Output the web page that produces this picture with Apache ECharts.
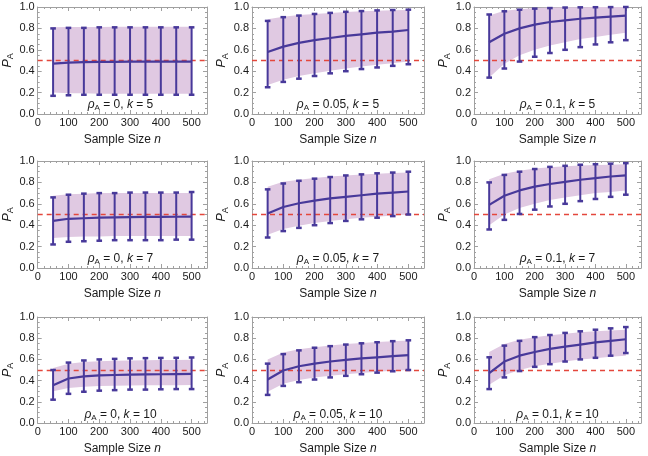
<!DOCTYPE html>
<html><head><meta charset="utf-8">
<script src="https://cdn.jsdelivr.net/npm/echarts@6/dist/echarts.min.js"></script>
<style>html,body{margin:0;padding:0;background:#fff}#c{width:648px;height:456px}</style>
</head><body><div id="c"></div>
<script>
// ---- data ----
const sampleSizes = [50,100,150,200,250,300,350,400,450,500];
const xTickValues = [0,100,200,300,400,500];
const yTickValues = [0.0,0.2,0.4,0.6,0.8,1.0];
const rhoLabels = ['0','0.05','0.1'];
const kLabels = ['5','7','10'];

// rho = 0, k = 5
const mean_r0_k5   = [0.47,0.48,0.485,0.487,0.488,0.49,0.49,0.49,0.49,0.49];
const errHi_r0_k5  = [0.80,0.805,0.805,0.81,0.81,0.81,0.81,0.81,0.81,0.81];
const errLo_r0_k5  = [0.17,0.175,0.18,0.18,0.18,0.18,0.18,0.18,0.18,0.18];
const bandHi_r0_k5 = [0.81,0.812,0.813,0.814,0.815,0.815,0.815,0.815,0.815,0.815];
const bandLo_r0_k5 = [0.20,0.195,0.195,0.19,0.19,0.19,0.19,0.19,0.19,0.19];
// rho = 0.05, k = 5
const mean_r05_k5   = [0.58,0.63,0.665,0.69,0.71,0.73,0.745,0.76,0.77,0.785];
const errHi_r05_k5  = [0.87,0.905,0.92,0.935,0.945,0.955,0.962,0.968,0.972,0.975];
const errLo_r05_k5  = [0.25,0.30,0.33,0.355,0.38,0.40,0.42,0.435,0.45,0.465];
const bandHi_r05_k5 = [0.885,0.91,0.925,0.935,0.945,0.953,0.96,0.965,0.97,0.973];
const bandLo_r05_k5 = [0.27,0.32,0.355,0.38,0.405,0.425,0.445,0.46,0.475,0.49];
// rho = 0.1, k = 5
const mean_r1_k5   = [0.67,0.75,0.80,0.835,0.86,0.875,0.89,0.90,0.91,0.92];
const errHi_r1_k5  = [0.93,0.96,0.975,0.985,0.99,0.995,0.997,0.998,0.999,1.0];
const errLo_r1_k5  = [0.34,0.425,0.49,0.535,0.57,0.60,0.625,0.65,0.67,0.69];
const bandHi_r1_k5 = [0.92,0.965,0.98,0.99,0.995,0.997,0.998,0.999,1.0,1.0];
const bandLo_r1_k5 = [0.34,0.47,0.55,0.60,0.64,0.67,0.70,0.72,0.74,0.76];
// rho = 0, k = 7
const mean_r0_k7   = [0.44,0.46,0.465,0.47,0.473,0.475,0.477,0.478,0.479,0.48];
const errHi_r0_k7  = [0.66,0.685,0.695,0.70,0.70,0.705,0.705,0.705,0.705,0.71];
const errLo_r0_k7  = [0.22,0.245,0.25,0.255,0.26,0.26,0.26,0.26,0.265,0.265];
const bandHi_r0_k7 = [0.675,0.69,0.695,0.70,0.70,0.70,0.70,0.70,0.70,0.70];
const bandLo_r0_k7 = [0.28,0.29,0.295,0.295,0.30,0.30,0.30,0.30,0.30,0.30];
// rho = 0.05, k = 7
const mean_r05_k7   = [0.51,0.57,0.605,0.63,0.65,0.665,0.68,0.695,0.705,0.715];
const errHi_r05_k7  = [0.735,0.79,0.815,0.835,0.85,0.865,0.875,0.885,0.892,0.90];
const errLo_r05_k7  = [0.285,0.345,0.375,0.40,0.42,0.44,0.455,0.47,0.485,0.50];
const bandHi_r05_k7 = [0.76,0.805,0.825,0.84,0.855,0.865,0.875,0.882,0.888,0.893];
const bandLo_r05_k7 = [0.31,0.365,0.395,0.42,0.44,0.455,0.47,0.48,0.49,0.50];
// rho = 0.1, k = 7
const mean_r1_k7   = [0.59,0.675,0.725,0.76,0.785,0.805,0.825,0.84,0.855,0.865];
const errHi_r1_k7  = [0.80,0.87,0.90,0.925,0.945,0.955,0.965,0.97,0.975,0.98];
const errLo_r1_k7  = [0.36,0.45,0.505,0.545,0.575,0.60,0.625,0.645,0.665,0.685];
const bandHi_r1_k7 = [0.83,0.88,0.91,0.93,0.942,0.95,0.957,0.962,0.966,0.97];
const bandLo_r1_k7 = [0.40,0.50,0.56,0.60,0.635,0.66,0.68,0.70,0.71,0.725];
// rho = 0, k = 10
const mean_r0_k10   = [0.355,0.42,0.44,0.45,0.453,0.456,0.458,0.46,0.462,0.463];
const errHi_r0_k10  = [0.50,0.57,0.59,0.60,0.605,0.61,0.612,0.614,0.615,0.618];
const errLo_r0_k10  = [0.22,0.275,0.295,0.305,0.31,0.315,0.315,0.318,0.32,0.32];
const bandHi_r0_k10 = [0.52,0.56,0.575,0.583,0.587,0.59,0.592,0.594,0.595,0.597];
const bandLo_r0_k10 = [0.30,0.33,0.343,0.35,0.352,0.354,0.355,0.356,0.357,0.358];
// rho = 0.05, k = 10
const mean_r05_k10   = [0.41,0.495,0.535,0.56,0.58,0.595,0.61,0.62,0.63,0.64];
const errHi_r05_k10  = [0.56,0.65,0.685,0.71,0.725,0.74,0.752,0.762,0.772,0.78];
const errLo_r05_k10  = [0.265,0.35,0.385,0.41,0.43,0.445,0.46,0.475,0.488,0.50];
const bandHi_r05_k10 = [0.60,0.665,0.695,0.715,0.73,0.745,0.755,0.765,0.772,0.778];
const bandLo_r05_k10 = [0.295,0.37,0.405,0.43,0.445,0.46,0.472,0.484,0.494,0.50];
// rho = 0.1, k = 10
const mean_r1_k10   = [0.47,0.58,0.635,0.67,0.70,0.72,0.74,0.76,0.775,0.79];
const errHi_r1_k10  = [0.62,0.73,0.775,0.81,0.83,0.85,0.865,0.88,0.893,0.905];
const errLo_r1_k10  = [0.32,0.43,0.49,0.53,0.555,0.58,0.60,0.615,0.635,0.66];
const bandHi_r1_k10 = [0.67,0.745,0.785,0.81,0.828,0.842,0.855,0.865,0.873,0.88];
const bandLo_r1_k10 = [0.36,0.45,0.50,0.535,0.56,0.58,0.60,0.612,0.624,0.635];

const referenceLevel = 0.5;

const panelData = [
  [mean_r0_k5, errLo_r0_k5, errHi_r0_k5, bandLo_r0_k5, bandHi_r0_k5],
  [mean_r05_k5, errLo_r05_k5, errHi_r05_k5, bandLo_r05_k5, bandHi_r05_k5],
  [mean_r1_k5, errLo_r1_k5, errHi_r1_k5, bandLo_r1_k5, bandHi_r1_k5],
  [mean_r0_k7, errLo_r0_k7, errHi_r0_k7, bandLo_r0_k7, bandHi_r0_k7],
  [mean_r05_k7, errLo_r05_k7, errHi_r05_k7, bandLo_r05_k7, bandHi_r05_k7],
  [mean_r1_k7, errLo_r1_k7, errHi_r1_k7, bandLo_r1_k7, bandHi_r1_k7],
  [mean_r0_k10, errLo_r0_k10, errHi_r0_k10, bandLo_r0_k10, bandHi_r0_k10],
  [mean_r05_k10, errLo_r05_k10, errHi_r05_k10, bandLo_r05_k10, bandHi_r05_k10],
  [mean_r1_k10, errLo_r1_k10, errHi_r1_k10, bandLo_r1_k10, bandHi_r1_k10]
];

// ---- layout / style ----
const colLeft = [34, 252, 474];
const colWidth = [173, 172, 167];
const rowTop = [7, 161, 317];
const rowHeight = 107;
const FONT = '"Liberation Sans", Arial, sans-serif';
const LINE = '#48399a';
const BAND = '#e0c9e2';
const FRAME = '#a0a0a0';
const TXT = '#1a1a1a';

const grid = [], xAxis = [], yAxis = [], series = [], graphic = [];

for (let i = 0; i < 9; i++) {
  const r = Math.floor(i / 3), c = i % 3;
  const [mean, eLo, eHi, bLo, bHi] = panelData[i];
  grid.push({left: colLeft[c], top: rowTop[r], width: colWidth[c], height: rowHeight, containLabel: false});
  const xCommon = {
    type: 'value', gridIndex: i, min: 0, max: 550, interval: 100,
    splitLine: {show: false},
    axisLine: {show: true, onZero: false, lineStyle: {color: FRAME, width: 1}},
    axisTick: {show: true, inside: true, length: 4, lineStyle: {color: FRAME}},
    minorTick: {show: true, splitNumber: 5, length: 2, lineStyle: {color: FRAME}}
  };
  xAxis.push(Object.assign({}, xCommon, {
    position: 'bottom',
    axisLabel: {show: true, fontSize: 11, color: TXT, fontFamily: FONT, margin: 3, showMaxLabel: false,
      formatter: v => xTickValues.includes(v) ? String(v) : ''},
    name: 'Sample Size {i|n}', nameLocation: 'middle', nameGap: 20,
    nameTextStyle: {fontSize: 12, color: TXT, fontFamily: FONT,
      rich: {i: {fontStyle: 'italic', fontSize: 12, color: TXT, fontFamily: FONT}}}
  }));
  xAxis.push(Object.assign({}, xCommon, {position: 'top', axisLabel: {show: false}}));
  const yCommon = {
    type: 'value', gridIndex: i, min: 0, max: 1, interval: 0.2,
    splitLine: {show: false},
    axisLine: {show: true, onZero: false, lineStyle: {color: FRAME, width: 1}},
    axisTick: {show: true, inside: true, length: 4, lineStyle: {color: FRAME}},
    minorTick: {show: true, splitNumber: 4, length: 2, lineStyle: {color: FRAME}}
  };
  yAxis.push(Object.assign({}, yCommon, {
    position: 'left',
    axisLabel: {show: true, fontSize: 11, color: TXT, fontFamily: FONT, margin: 3,
      formatter: v => v.toFixed(1)},
    name: '{i|P}{s|A}', nameLocation: 'middle', nameGap: 16, nameRotate: 90,
    nameTextStyle: {fontFamily: FONT, color: TXT,
      rich: {i: {fontStyle: 'italic', fontSize: 13, color: TXT, fontFamily: FONT, lineHeight: 16},
             s: {fontSize: 9, color: TXT, fontFamily: FONT, lineHeight: 8, verticalAlign: 'bottom'}}}
  }));
  yAxis.push(Object.assign({}, yCommon, {position: 'right', axisLabel: {show: false}}));

  const xi = 2 * i, yi = 2 * i;
  // shaded band
  series.push({
    type: 'custom', xAxisIndex: xi, yAxisIndex: yi, z: 1, silent: true,
    data: sampleSizes.map((n, j) => [n, bLo[j], bHi[j]]),
    encode: {x: 0, y: [1, 2]},
    renderItem: (params, api) => {
      if (params.dataIndex !== 0) return null;
      const upper = sampleSizes.map((n, j) => api.coord([n, bHi[j]]));
      const lower = sampleSizes.map((n, j) => api.coord([n, bLo[j]])).reverse();
      return {type: 'polygon', shape: {points: upper.concat(lower)}, style: {fill: BAND, stroke: null}};
    }
  });
  // error bars
  series.push({
    type: 'custom', xAxisIndex: xi, yAxisIndex: yi, z: 3, silent: true,
    data: sampleSizes.map((n, j) => [n, eLo[j], eHi[j]]),
    encode: {x: 0, y: [1, 2]},
    renderItem: (params, api) => {
      const x = api.value(0);
      const pLo = api.coord([x, api.value(1)]);
      const pHi = api.coord([x, api.value(2)]);
      const hw = 2.8;
      const st = {stroke: LINE, lineWidth: 2};
      const cap = {stroke: LINE, lineWidth: 2.5};
      return {type: 'group', children: [
        {type: 'line', shape: {x1: pLo[0], y1: pLo[1], x2: pHi[0], y2: pHi[1]}, style: st},
        {type: 'line', shape: {x1: pLo[0] - hw, y1: pLo[1], x2: pLo[0] + hw, y2: pLo[1]}, style: cap},
        {type: 'line', shape: {x1: pHi[0] - hw, y1: pHi[1], x2: pHi[0] + hw, y2: pHi[1]}, style: cap}
      ]};
    }
  });
  // mean line + reference line
  series.push({
    type: 'line', xAxisIndex: xi, yAxisIndex: yi, z: 4, silent: true,
    data: sampleSizes.map((n, j) => [n, mean[j]]),
    symbol: 'none', lineStyle: {color: LINE, width: 2.2},
    markLine: {silent: true, symbol: 'none', z: 2, label: {show: false},
      lineStyle: {color: '#e4473c', type: [5, 4], width: 1.3},
      data: [{yAxis: referenceLevel}]}
  });
  // annotation
  graphic.push({
    type: 'text', x: colLeft[c] + colWidth[c] / 2, y: rowTop[r] + rowHeight - 9, z: 10,
    style: {
      text: '{g|ρ}{s|A}{t| = ' + rhoLabels[c] + ', }{g|k}{t| = ' + kLabels[r] + '}',
      align: 'center', verticalAlign: 'middle',
      rich: {
        g: {fontStyle: 'italic', fontSize: 12, fill: TXT, fontFamily: FONT, lineHeight: 14},
        t: {fontSize: 12, fill: TXT, fontFamily: FONT, lineHeight: 14},
        s: {fontSize: 8, fill: TXT, fontFamily: FONT, lineHeight: 8, verticalAlign: 'bottom'}
      }
    }
  });
}

const chart = echarts.init(document.getElementById('c'), null, {renderer: 'canvas'});
chart.setOption({animation: false, backgroundColor: '#fff', textStyle: {fontFamily: FONT},
  grid, xAxis, yAxis, series, graphic});
</script>
</body></html>
